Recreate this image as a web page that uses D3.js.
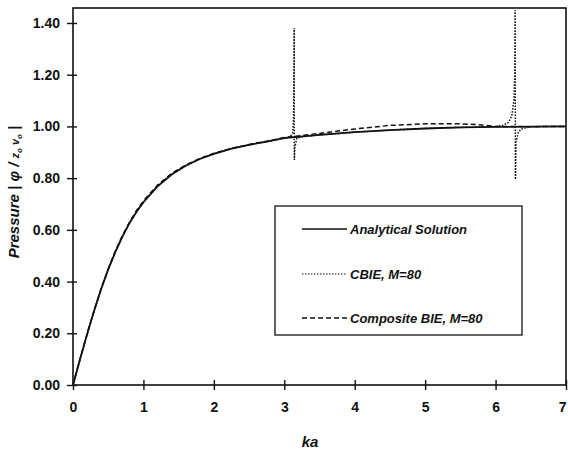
<!DOCTYPE html>
<html>
<head>
<meta charset="utf-8">
<style>
body { margin: 0; background: #fff; }
text { font-family: "Liberation Sans", Arial, Helvetica, sans-serif; fill: #111; }
.tick text { font-size: 14px; font-weight: bold; }
</style>
</head>
<body>
<svg id="chart"></svg>
<script src="https://cdnjs.cloudflare.com/ajax/libs/d3/7.8.5/d3.min.js"></script>
<script>
// values
var kaAnalytical = [0, 0.1, 0.2, 0.3, 0.4, 0.5, 0.6, 0.7, 0.8, 0.9, 1.0, 1.2, 1.4, 1.6, 1.8, 2.0, 2.25, 2.5, 2.75, 3.0, 3.5, 4.0, 4.5, 5.0, 5.5, 6.0, 6.5, 7.0];
var pAnalytical = [0, 0.100, 0.196, 0.287, 0.371, 0.447, 0.514, 0.573, 0.625, 0.669, 0.707, 0.768, 0.814, 0.848, 0.874, 0.894, 0.914, 0.929, 0.941, 0.955, 0.967, 0.978, 0.986, 0.992, 0.996, 0.998, 0.999, 1.000];

var kaCbie = [0, 0.1, 0.2, 0.3, 0.4, 0.5, 0.6, 0.7, 0.8, 0.9, 1.0, 1.2, 1.4, 1.6, 1.8, 2.0, 2.25, 2.5, 2.75, 3.0, 3.08, 3.12, 3.13, 3.135, 3.14, 3.143, 3.15, 3.18, 3.25, 3.5, 4.0, 4.5, 5.0, 5.5, 6.0, 6.1, 6.18, 6.23, 6.26, 6.272, 6.278, 6.282, 6.29, 6.32, 6.36, 6.5, 7.0];
var pCbie = [0, 0.100, 0.196, 0.287, 0.371, 0.447, 0.514, 0.573, 0.625, 0.669, 0.707, 0.768, 0.814, 0.848, 0.874, 0.894, 0.914, 0.929, 0.941, 0.955, 0.960, 0.975, 1.02, 1.12, 1.38, 0.87, 0.92, 0.955, 0.960, 0.967, 0.978, 0.986, 0.992, 0.996, 0.999, 1.004, 1.015, 1.04, 1.10, 1.20, 1.45, 0.795, 0.94, 0.975, 0.99, 0.999, 1.000];

var kaComposite = [0, 0.1, 0.2, 0.3, 0.4, 0.5, 0.6, 0.7, 0.8, 0.9, 1.0, 1.2, 1.4, 1.6, 1.8, 2.0, 2.25, 2.5, 2.75, 3.0, 3.5, 4.0, 4.5, 5.0, 5.5, 5.8, 6.0, 6.5, 7.0];
var pComposite = [0, 0.100, 0.197, 0.288, 0.373, 0.449, 0.517, 0.577, 0.629, 0.674, 0.712, 0.773, 0.818, 0.851, 0.876, 0.896, 0.915, 0.930, 0.943, 0.957, 0.973, 0.990, 1.004, 1.010, 1.010, 1.006, 1.000, 0.999, 1.000];

var xTicks = [0, 1, 2, 3, 4, 5, 6, 7];
var yTicks = [0, 0.2, 0.4, 0.6, 0.8, 1.0, 1.2, 1.4];
var legendLabels = ["Analytical Solution", "CBIE, M=80", "Composite BIE, M=80"];
var legendDash = [null, "1.5,1.5", "5,3"];

var width = 568, height = 451;
var plotLeft = 73, plotRight = 566, plotTop = 8, plotBottom = 385;

var svg = d3.select("#chart").attr("width", width).attr("height", height);

var x = d3.scaleLinear().domain([0, 7]).range([plotLeft, plotRight]);
var y = d3.scaleLinear().domain([0, 1.4]).range([plotBottom, 23]);

// axes, ticks cross the axis line
var xAxis = svg.append("g")
    .attr("transform", "translate(0," + plotBottom + ")")
    .call(d3.axisBottom(x).tickValues(xTicks).tickSize(5).tickPadding(12)
      .tickFormat(d3.format("d")));
xAxis.selectAll(".tick").append("line").attr("y2", -5);
// last label sits against the right edge
xAxis.selectAll(".tick text").filter(function(d) { return d == 7; })
    .attr("text-anchor", "end").attr("dx", 0);

var yAxis = svg.append("g")
    .attr("transform", "translate(" + plotLeft + ",0)")
    .call(d3.axisLeft(y).tickValues(yTicks).tickSize(6).tickPadding(7)
      .tickFormat(d3.format(".2f")));
yAxis.selectAll(".tick").append("line").attr("x2", 4);

svg.selectAll(".domain").remove();
svg.selectAll(".tick line").attr("stroke", "#111").attr("stroke-width", 1.4);

svg.append("rect")
    .attr("x", plotLeft).attr("y", plotTop)
    .attr("width", plotRight - plotLeft).attr("height", plotBottom - plotTop)
    .attr("fill", "none").attr("stroke", "#111").attr("stroke-width", 1.6);

var line = d3.line()
    .x(function(d) { return x(d[0]); })
    .y(function(d) { return y(d[1]); });

svg.append("path")
    .datum(d3.zip(kaCbie, pCbie))
    .attr("d", line)
    .attr("fill", "none").attr("stroke", "#111").attr("stroke-width", 1.5)
    .attr("stroke-dasharray", "1.5,1.5");

svg.append("path")
    .datum(d3.zip(kaComposite, pComposite))
    .attr("d", line)
    .attr("fill", "none").attr("stroke", "#111").attr("stroke-width", 1.5)
    .attr("stroke-dasharray", "5,3");

svg.append("path")
    .datum(d3.zip(kaAnalytical, pAnalytical))
    .attr("d", line)
    .attr("fill", "none").attr("stroke", "#111").attr("stroke-width", 1.8);

// legend
var legend = svg.append("g");
legend.append("rect")
    .attr("x", 275).attr("y", 206).attr("width", 247).attr("height", 129)
    .attr("fill", "#fff").attr("stroke", "#111").attr("stroke-width", 1.3);

var rowY = [229, 274, 318];
legendLabels.forEach(function(lab, i) {
  legend.append("line")
      .attr("x1", 302).attr("x2", 347)
      .attr("y1", rowY[i]).attr("y2", rowY[i])
      .attr("stroke", "#111")
      .attr("stroke-width", i == 1 ? 1 : 1.4)
      .attr("stroke-dasharray", legendDash[i]);
  legend.append("text")
      .attr("x", 350).attr("y", rowY[i] + 4.5)
      .style("font-size", "13px").style("font-weight", "bold").style("font-style", "italic")
      .text(lab);
});

// axis titles
svg.append("text")
    .attr("x", 310).attr("y", 447)
    .attr("text-anchor", "middle")
    .style("font-size", "15px").style("font-weight", "bold").style("font-style", "italic")
    .text("ka");

var yt = svg.append("text")
    .attr("transform", "translate(19,192) rotate(-90)")
    .attr("text-anchor", "middle")
    .style("font-size", "15px").style("font-style", "italic").style("font-weight", "bold");
yt.append("tspan").text("Pressure | ");
yt.append("tspan").text("\u03c6");
yt.append("tspan").text(" / ");
yt.append("tspan").style("font-size", "11px").text("z");
yt.append("tspan").style("font-size", "8px").attr("dy", 3).text("o");
yt.append("tspan").style("font-size", "11px").attr("dy", -3).text(" v");
yt.append("tspan").style("font-size", "8px").attr("dy", 3).text("o");
yt.append("tspan").attr("dy", -3).text(" |");
</script>
</body>
</html>
